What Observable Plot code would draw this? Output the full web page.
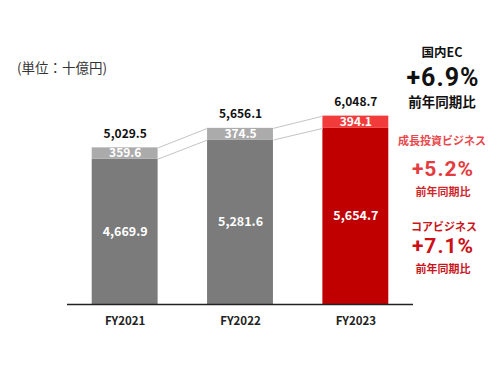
<!DOCTYPE html>
<html><head><meta charset="utf-8">
<script src="https://cdn.jsdelivr.net/npm/d3@7"></script>
<script src="https://cdn.jsdelivr.net/npm/@observablehq/plot@0.6"></script>
<style>
body{margin:0;background:#fff;font-family:"Noto Sans CJK JP","Noto Sans",sans-serif;}
#wrap{position:relative;width:500px;height:375px;overflow:hidden;}
#wrap svg{position:absolute;left:0;top:0;}
.t{position:absolute;white-space:nowrap;font-weight:bold;transform:translate(-50%,-50%);line-height:1;}
.p{font-family:Roboto,"Noto Sans",sans-serif;letter-spacing:1px;}
</style></head><body>
<div id="wrap"></div>
<script>
const years = ["FY2021", "FY2022", "FY2023"];
const core = [4669.9, 5281.6, 5654.7];
const growth = [359.6, 374.5, 394.1];
const totals = [5029.5, 5656.1, 6048.7];
const unitLabel = "(単位：十億円)";
const notes = [
  {text: "国内EC", size: 12.5, color: "#111", x: 442, y: 52},
  {text: "+6.9%", size: 25, color: "#111", x: 443, y: 77, pct: true},
  {text: "前年同期比", size: 13.5, color: "#111", x: 442, y: 102},
  {text: "成長投資ビジネス", size: 11, color: "#e8474c", x: 442, y: 140},
  {text: "+5.2%", size: 21, color: "#e43b3f", x: 443, y: 169, pct: true},
  {text: "前年同期比", size: 11, color: "#d0262b", x: 443, y: 191},
  {text: "コアビジネス", size: 11, color: "#c8161c", x: 444, y: 226},
  {text: "+7.1%", size: 21, color: "#cc1016", x: 443, y: 246, pct: true},
  {text: "前年同期比", size: 11, color: "#c8161c", x: 443, y: 268}
];

const hw = 0.2857;
const rows = years.map((y, i) => ({
  i, year: y, core: core[i], growth: growth[i], total: totals[i],
  coreColor: i === 2 ? "#c00000" : "#7b7b7b",
  growthColor: i === 2 ? "#f23c3c" : "#ababab"
}));
const links = rows.slice(0, -1).flatMap((r, k) => {
  const n = rows[k + 1];
  return [
    {x1: r.i + hw, x2: n.i - hw, y1: r.total, y2: n.total},
    {x1: r.i + hw, x2: n.i - hw, y1: r.core, y2: n.core}
  ];
});

const font = '"Noto Sans CJK JP","Noto Sans",sans-serif';
const chart = Plot.plot({
  width: 500, height: 375,
  marginLeft: 67, marginRight: 87, marginTop: 100, marginBottom: 71,
  style: {fontFamily: font, background: "transparent"},
  x: {domain: [-0.5, 2.5], axis: null},
  y: {domain: [0, 6550], axis: null},
  marks: [
    Plot.rectY(rows, {x1: d => d.i - hw, x2: d => d.i + hw, y1: 0, y2: "core", fill: "coreColor"}),
    Plot.rectY(rows, {x1: d => d.i - hw, x2: d => d.i + hw, y1: "core", y2: "total", fill: "growthColor"}),
    Plot.link(links, {x1: "x1", x2: "x2", y1: "y1", y2: "y2", stroke: "#c4c4c4", strokeWidth: 1}),
    Plot.ruleY([0], {x1: -0.5, x2: 2.5, stroke: "#222", strokeWidth: 1.5}),
    Plot.text(rows, {x: "i", y: "total", text: d => d3.format(",.1f")(d.total), dy: -14, fontWeight: "bold", fontSize: 12, fill: "#111"}),
    Plot.text(rows, {x: "i", y: d => d.core + d.growth / 2, text: d => d3.format(",.1f")(d.growth), fontWeight: "bold", fontSize: 12, fill: "#fff"}),
    Plot.text(rows, {x: "i", y: d => d.core / 2, text: d => d3.format(",.1f")(d.core), fontWeight: "bold", fontSize: 12.5, fill: "#fff"}),
    Plot.text(rows, {x: "i", y: 0, text: "year", dy: 17, fontWeight: "bold", fontSize: 11.5, fill: "#222"})
  ]
});
const wrap = document.getElementById("wrap");
wrap.appendChild(chart);
const u = document.createElement("div");
u.textContent = unitLabel;
u.style.cssText = "position:absolute;left:17px;top:61px;font-size:13.5px;color:#333;white-space:nowrap;line-height:1;";
wrap.appendChild(u);
for (const n of notes) {
  const d = document.createElement("div");
  d.className = n.pct ? "t p" : "t";
  d.textContent = n.text;
  d.style.left = n.x + "px";
  d.style.top = n.y + "px";
  d.style.fontSize = n.size + "px";
  d.style.color = n.color;
  wrap.appendChild(d);
}
</script>
</body></html>
